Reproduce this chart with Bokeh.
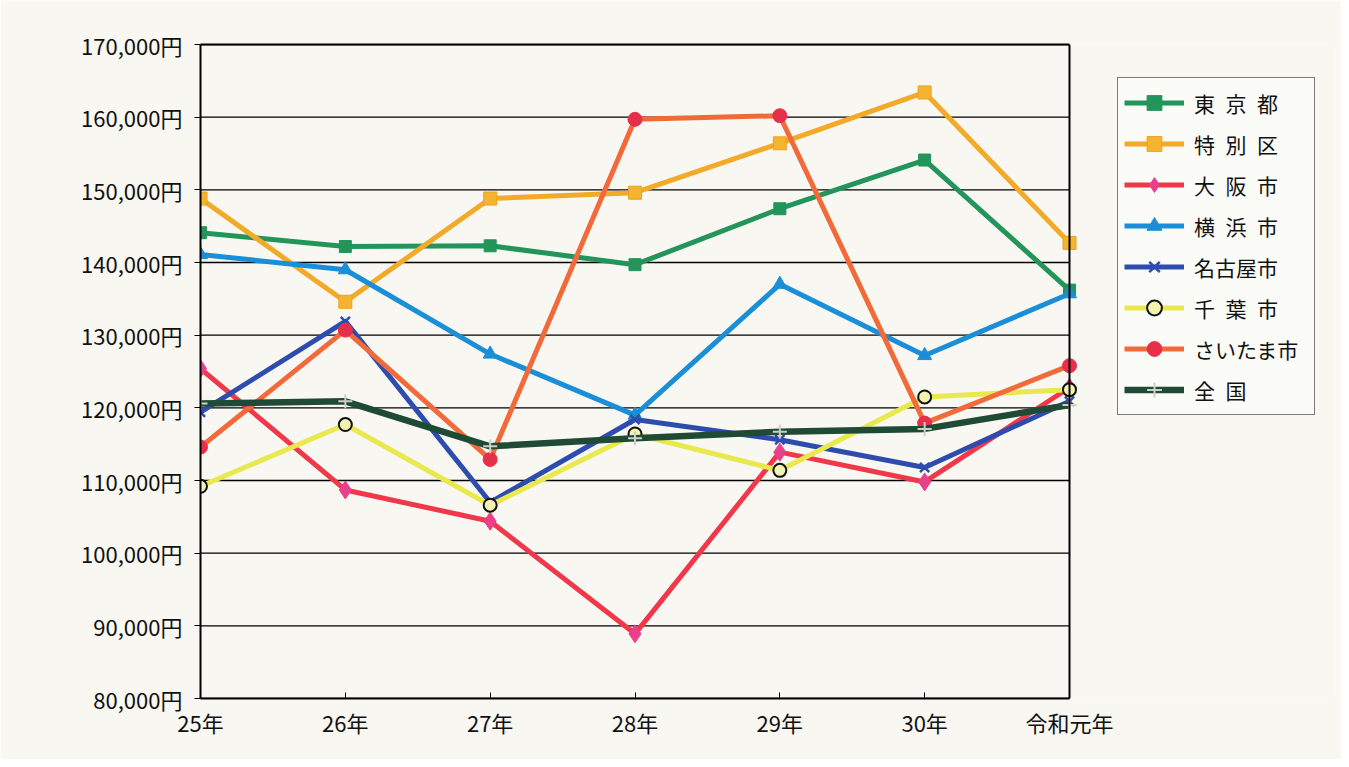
from bokeh.plotting import figure
from bokeh.models import Range1d, FixedTicker, Legend, LegendItem, LinearAxis, Span
from bokeh.embed import file_html
from bokeh.resources import INLINE

# ---- data ----
years = ["25年", "26年", "27年", "28年", "29年", "30年", "令和元年"]
tokyo = [144100, 142200, 142300, 139700, 147400, 154100, 136200]
tokubetsu = [148800, 134600, 148800, 149600, 156400, 163400, 142700]
osaka = [125400, 108700, 104400, 88900, 113900, 109800, 122800]
yokohama = [141100, 139000, 127400, 119000, 137000, 127200, 135700]
nagoya = [119400, 131900, 107000, 118400, 115600, 111800, 120900]
chiba = [109200, 117700, 106600, 116400, 111400, 121500, 122500]
saitama = [114600, 130700, 112900, 159700, 160200, 117900, 125800]
zenkoku = [120600, 120900, 114700, 115800, 116700, 117100, 120400]
y_ticks = list(range(80000, 170001, 10000))

labels = ["東\u2002京\u2002都", "特\u2002別\u2002区", "大\u2002阪\u2002市", "横\u2002浜\u2002市",
          "名古屋市", "千\u2002葉\u2002市", "さいたま市", "全\u2002国"]
series = [tokyo, tokubetsu, osaka, yokohama, nagoya, chiba, saitama, zenkoku]

# ---- styles ----
styles = [
    dict(line="#23955a", lw=5, marker="square", size=12, fill="#23955a", mline="#23955a", mlw=1),
    dict(line="#f2aa28", lw=5, marker="square", size=13, fill="#f4b430", mline="#eea020", mlw=1),
    dict(line="#f0384a", lw=5, marker="diamond", size=18, fill="#e8408a", mline="#e8408a", mlw=1),
    dict(line="#1a8ed6", lw=5, marker="triangle", size=14, fill="#1a8ed6", mline="#1a8ed6", mlw=1),
    dict(line="#2d4cae", lw=5, marker="x", size=13, fill="#2d4cae", mline="#2d4cae", mlw=2.5),
    dict(line="#e9e84c", lw=5, marker="circle", size=13, fill="#f4f2b0", mline="#111111", mlw=2),
    dict(line="#f36a3a", lw=5, marker="circle", size=14, fill="#e6304a", mline="#e6304a", mlw=1),
    dict(line="#1e4a36", lw=6.5, marker="cross", size=14, fill="#cfcfc8", mline="#cfcfc8", mlw=2),
]

FONT = "Noto Sans CJK JP"
BG = "#f8f7f2"

# layout geometry (pixels)
W, H = 1341, 759
LEFT, TOP, BOTTOM, RIGHT_MARGIN = 200, 44, 61, 6
PLOT_RIGHT = 1069            # where the last category sits
frame_w = W - LEFT - RIGHT_MARGIN
n_last = len(years) - 1
x_end = n_last * frame_w / (PLOT_RIGHT - LEFT)

p = figure(width=W, height=H, output_backend="svg", toolbar_location=None,
           x_range=Range1d(0, x_end), y_range=Range1d(y_ticks[0], y_ticks[-1]),
           min_border_left=LEFT, min_border_right=RIGHT_MARGIN,
           min_border_top=TOP, min_border_bottom=BOTTOM)
p.background_fill_color = BG
p.border_fill_color = BG
p.outline_line_color = None
p.xgrid.grid_line_color = None
p.ygrid.grid_line_color = None

xs = list(range(len(years)))

# horizontal grid lines, limited to the plotting area
p.segment(x0=[0] * len(y_ticks), x1=[n_last] * len(y_ticks), y0=y_ticks, y1=y_ticks,
          line_color="black", line_width=1.3)
# right border of plotting area
p.add_layout(Span(location=n_last, dimension="height", line_color="black", line_width=2))

items = []
for lab, ys, st in zip(labels, series, styles):
    lr = p.line(xs, ys, line_color=st["line"], line_width=st["lw"], line_join="round")
    sr = p.scatter(xs, ys, marker=st["marker"], size=st["size"], fill_color=st["fill"],
                   line_color=st["mline"], line_width=st["mlw"])
    items.append(LegendItem(label=lab, renderers=[lr, sr]))

# axes
p.xaxis.bounds = (0, n_last)
p.xaxis.ticker = FixedTicker(ticks=xs)
p.xaxis.major_label_overrides = {i: y for i, y in enumerate(years)}
p.xaxis.major_tick_in = 6
p.xaxis.major_tick_out = 0
p.xaxis.minor_tick_line_color = None
p.xaxis.axis_line_color = "black"
p.xaxis.axis_line_width = 2
p.xaxis.major_label_standoff = 7
p.xaxis.major_label_text_font = FONT
p.xaxis.major_label_text_font_size = "22px"
p.xaxis.major_label_text_color = "#111111"

p.yaxis.ticker = FixedTicker(ticks=y_ticks)
p.yaxis.major_label_overrides = {v: f"{v:,}円" for v in y_ticks}
p.yaxis.major_tick_in = 0
p.yaxis.major_tick_out = 6
p.yaxis.minor_tick_line_color = None
p.yaxis.axis_line_color = "black"
p.yaxis.axis_line_width = 2
p.yaxis.major_label_standoff = 12
p.yaxis.major_label_text_font = FONT
p.yaxis.major_label_text_font_size = "22px"
p.yaxis.major_label_text_color = "#111111"

top = LinearAxis(bounds=(0, n_last), ticker=FixedTicker(ticks=[]),
                 axis_line_color="black", axis_line_width=2,
                 major_tick_line_color=None, minor_tick_line_color=None,
                 major_label_text_font_size="0px")
p.add_layout(top, "above")

legend = Legend(items=items, location=(1117 - LEFT, 698 - 415))
legend.margin = 0
legend.label_text_font = FONT
legend.label_text_font_size = "21px"
legend.label_text_color = "#111111"
legend.glyph_width = 60
legend.glyph_height = 37
legend.label_height = 37
legend.spacing = 4
legend.padding = 6
legend.label_standoff = 10
legend.label_width = 114
legend.border_line_color = "black"
legend.border_line_width = 1.5
legend.background_fill_color = "#fbfbf8"
legend.background_fill_alpha = 1
p.add_layout(legend, "center")

open("out.html", "w").write(file_html(p, INLINE))
